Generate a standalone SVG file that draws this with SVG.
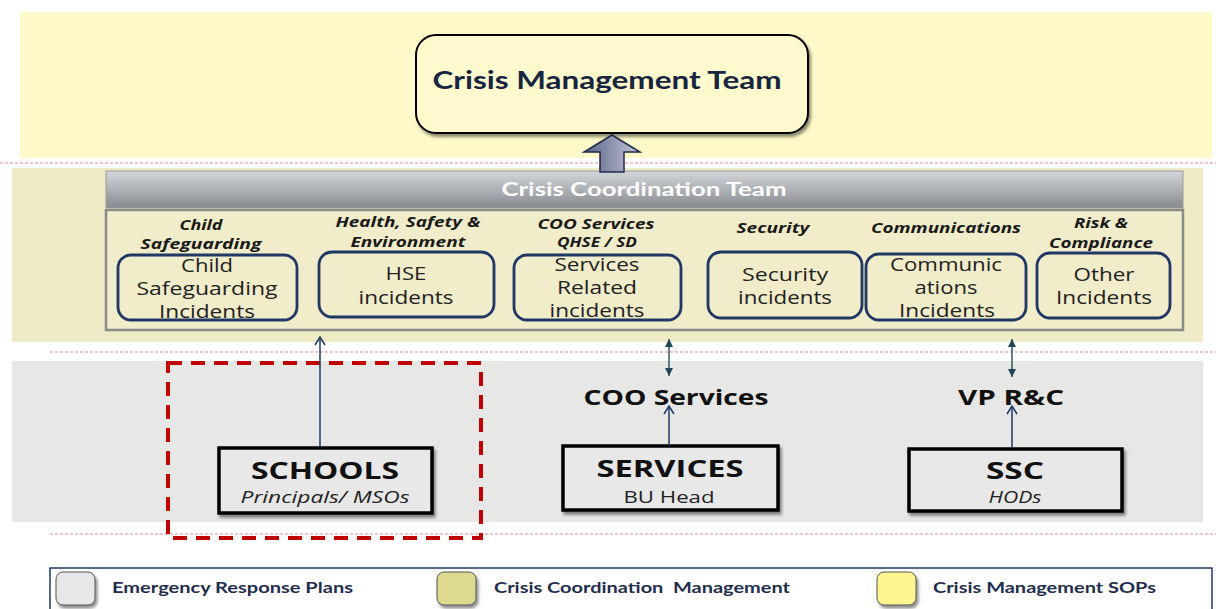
<svg xmlns="http://www.w3.org/2000/svg" width="1216" height="609" viewBox="0 0 1216 609">
<style>
.band{stroke:none}
.dots{stroke:#F2C4C4;stroke-width:2;stroke-dasharray:3 2;fill:none}
.inc{fill:none;stroke:#1F3864;stroke-width:2.8}
.inct{font-family:"Open Sans","DejaVu Sans",sans-serif;font-size:18px;fill:#222;text-anchor:middle}
.sub{font-family:"Open Sans","DejaVu Sans",sans-serif;font-size:14px;font-weight:bold;font-style:italic;fill:#1a1a1a;text-anchor:middle}
.unit{fill:#E8E8E8;stroke:#000;stroke-width:3.5}
.ut{font-family:"Open Sans","DejaVu Sans",sans-serif;font-size:24px;font-weight:bold;fill:#111;text-anchor:middle}
.us{font-family:"Open Sans","DejaVu Sans",sans-serif;font-size:17px;fill:#222;text-anchor:middle}
.head{font-family:"Open Sans","DejaVu Sans",sans-serif;font-size:22px;font-weight:bold;fill:#111;text-anchor:middle}
.conn{stroke:#1F3864;stroke-width:1.5;fill:none}
.conn2{stroke:#2E5466;stroke-width:1.5;fill:none}
.leg{font-family:"Lato","Open Sans",sans-serif;font-size:15px;font-weight:bold;fill:#1F2D4E}
</style>
<defs>
<linearGradient id="hdr" x1="0" y1="0" x2="0" y2="1">
<stop offset="0" stop-color="#D3D6DA"/>
<stop offset="1" stop-color="#878A8F"/>
</linearGradient>
<linearGradient id="blk" x1="0" y1="0" x2="1" y2="0">
<stop offset="0" stop-color="#5B6185"/>
<stop offset="1" stop-color="#C4C8DA"/>
</linearGradient>
<filter id="sh" x="-10%" y="-10%" width="130%" height="140%">
<feDropShadow dx="2" dy="3" stdDeviation="1.5" flood-color="#000" flood-opacity="0.45"/>
</filter>
<marker id="open" viewBox="0 0 10 12" refX="9" refY="6" markerWidth="10" markerHeight="12" markerUnits="userSpaceOnUse" orient="auto-start-reverse">
<path d="M1,1 L9,6 L1,11" fill="none" stroke="#1F3864" stroke-width="1.5"/>
</marker>
<marker id="fill" viewBox="0 0 10 10" refX="9" refY="5" markerWidth="10" markerHeight="10" markerUnits="userSpaceOnUse" orient="auto-start-reverse">
<path d="M1,1 L9,5 L1,9 Z" fill="#1F4656"/>
</marker>
</defs>

<!-- bands -->
<rect class="band" x="20" y="12" width="1192" height="146" fill="#FDF9C9"/>
<line class="dots" x1="0" y1="163" x2="1216" y2="163"/>
<rect class="band" x="12" y="168" width="1191" height="174" fill="#F0EBC7"/>
<line class="dots" x1="50" y1="352" x2="1216" y2="352"/>
<rect class="band" x="12" y="361" width="1191" height="161" fill="#E7E7E6"/>
<line class="dots" x1="50" y1="534" x2="1216" y2="534"/>

<!-- Crisis Management Team -->
<g id="cmt">
<rect x="416" y="35" width="392" height="98" rx="20" fill="#FFFACD" stroke="#000" stroke-width="2" filter="url(#sh)"/>
<text x="607" y="89" font-family="Lato,'Open Sans',sans-serif" font-size="24" font-weight="bold" fill="#16243F" text-anchor="middle" textLength="349" lengthAdjust="spacingAndGlyphs">Crisis Management Team</text>
</g>

<!-- Crisis Coordination Team -->
<g id="cct">
<rect x="106" y="210" width="1077" height="120" fill="#F1ECC9" stroke="#8A8A8A" stroke-width="2.5"/>
<rect x="106" y="171" width="1077" height="37" fill="url(#hdr)" stroke="#9A9A9A" stroke-width="1"/>
<text x="644" y="196" font-family="Lato,'Open Sans',sans-serif" font-size="19" font-weight="bold" fill="#FFFFFF" text-anchor="middle" textLength="285" lengthAdjust="spacingAndGlyphs">Crisis Coordination Team</text>
</g>

<g id="cs">
<text class="sub" x="201" y="230" textLength="43" lengthAdjust="spacingAndGlyphs">Child</text>
<text class="sub" x="201" y="249" textLength="121" lengthAdjust="spacingAndGlyphs">Safeguarding</text>
<rect class="inc" x="118" y="255" width="179" height="65" rx="13"/>
<text class="inct" x="207" y="272" textLength="52" lengthAdjust="spacingAndGlyphs">Child</text>
<text class="inct" x="207" y="295" textLength="141" lengthAdjust="spacingAndGlyphs">Safeguarding</text>
<text class="inct" x="207" y="318" textLength="96" lengthAdjust="spacingAndGlyphs">Incidents</text>
</g>

<g id="hse">
<text class="sub" x="408" y="227" textLength="145" lengthAdjust="spacingAndGlyphs">Health, Safety &amp;</text>
<text class="sub" x="408" y="247" textLength="115" lengthAdjust="spacingAndGlyphs">Environment</text>
<rect class="inc" x="319" y="252" width="175" height="65" rx="13"/>
<text class="inct" x="406" y="280" textLength="41" lengthAdjust="spacingAndGlyphs">HSE</text>
<text class="inct" x="406" y="304" textLength="95" lengthAdjust="spacingAndGlyphs">incidents</text>
</g>

<g id="coo">
<text class="sub" x="596" y="229" textLength="117" lengthAdjust="spacingAndGlyphs">COO Services</text>
<text class="sub" x="597" y="247" textLength="80" lengthAdjust="spacingAndGlyphs">QHSE / SD</text>
<rect class="inc" x="514" y="255" width="167" height="65" rx="13"/>
<text class="inct" x="597" y="271" textLength="85" lengthAdjust="spacingAndGlyphs">Services</text>
<text class="inct" x="597" y="294" textLength="80" lengthAdjust="spacingAndGlyphs">Related</text>
<text class="inct" x="597" y="317" textLength="95" lengthAdjust="spacingAndGlyphs">incidents</text>
</g>

<g id="sec">
<text class="sub" x="773" y="233" textLength="73" lengthAdjust="spacingAndGlyphs">Security</text>
<rect class="inc" x="708" y="252" width="154" height="66" rx="13"/>
<text class="inct" x="785" y="281" textLength="86" lengthAdjust="spacingAndGlyphs">Security</text>
<text class="inct" x="785" y="304" textLength="94" lengthAdjust="spacingAndGlyphs">incidents</text>
</g>

<g id="com">
<text class="sub" x="946" y="233" textLength="150" lengthAdjust="spacingAndGlyphs">Communications</text>
<rect class="inc" x="866" y="254" width="160" height="66" rx="13"/>
<text class="inct" x="946" y="271" textLength="112" lengthAdjust="spacingAndGlyphs">Communic</text>
<text class="inct" x="946" y="294" textLength="63" lengthAdjust="spacingAndGlyphs">ations</text>
<text class="inct" x="947" y="317" textLength="96" lengthAdjust="spacingAndGlyphs">Incidents</text>
</g>

<g id="risk">
<text class="sub" x="1101" y="228" textLength="54" lengthAdjust="spacingAndGlyphs">Risk &amp;</text>
<text class="sub" x="1101" y="248" textLength="104" lengthAdjust="spacingAndGlyphs">Compliance</text>
<rect class="inc" x="1037" y="253" width="133" height="65" rx="13"/>
<text class="inct" x="1104" y="281" textLength="61" lengthAdjust="spacingAndGlyphs">Other</text>
<text class="inct" x="1104" y="304" textLength="96" lengthAdjust="spacingAndGlyphs">Incidents</text>
</g>

<!-- lower units -->
<rect x="168" y="363" width="313" height="175" fill="none" stroke="#C00000" stroke-width="4" stroke-dasharray="14 9"/>

<g id="schools">
<rect class="unit" x="219" y="448" width="213" height="65" filter="url(#sh)"/>
<text class="ut" x="325" y="479" textLength="148" lengthAdjust="spacingAndGlyphs">SCHOOLS</text>
<text class="us" x="325" y="503" font-style="italic" textLength="169" lengthAdjust="spacingAndGlyphs">Principals/ MSOs</text>
</g>

<g id="coo-services">
<text class="head" x="676" y="405" textLength="185" lengthAdjust="spacingAndGlyphs">COO Services</text>
</g>

<g id="services">
<rect class="unit" x="563" y="446" width="215" height="64" filter="url(#sh)"/>
<text class="ut" x="670" y="477" textLength="147" lengthAdjust="spacingAndGlyphs">SERVICES</text>
<text class="us" x="669" y="503" textLength="91" lengthAdjust="spacingAndGlyphs">BU Head</text>
</g>

<g id="vprc">
<text class="head" x="1011" y="405" textLength="106" lengthAdjust="spacingAndGlyphs">VP R&amp;C</text>
</g>

<g id="ssc">
<rect class="unit" x="909" y="449" width="213" height="62" filter="url(#sh)"/>
<text class="ut" x="1015" y="479" textLength="58" lengthAdjust="spacingAndGlyphs">SSC</text>
<text class="us" x="1015" y="503" font-style="italic" textLength="53" lengthAdjust="spacingAndGlyphs">HODs</text>
</g>

<!-- connectors -->
<g id="connectors">
<path d="M612,135 L640,152 L624,152 L624,172 L600,172 L600,152 L584,152 Z" fill="url(#blk)" stroke="#1F2A4A" stroke-width="1.5" stroke-linejoin="miter"/>
<line class="conn" x1="320" y1="446" x2="320" y2="337" marker-end="url(#open)"/>
<line class="conn2" x1="669" y1="339" x2="669" y2="376" marker-start="url(#fill)" marker-end="url(#fill)"/>
<line class="conn" x1="669" y1="446" x2="669" y2="406" marker-end="url(#open)"/>
<line class="conn2" x1="1012" y1="339" x2="1012" y2="377" marker-start="url(#fill)" marker-end="url(#fill)"/>
<line class="conn" x1="1012" y1="447" x2="1012" y2="406" marker-end="url(#open)"/>
</g>

<!-- legend -->
<g id="legend">
<rect x="50" y="568" width="1162" height="45" fill="#FFFFFF" stroke="#1F3864" stroke-width="1.5"/>
<rect x="56" y="572" width="39" height="33" rx="7" fill="#E6E7E6" stroke="#555" stroke-width="1" filter="url(#sh)"/>
<text class="leg" x="112" y="593" textLength="241" lengthAdjust="spacingAndGlyphs">Emergency Response Plans</text>
<rect x="437" y="572" width="39" height="33" rx="7" fill="#DDD98F" stroke="#555" stroke-width="1" filter="url(#sh)"/>
<text class="leg" x="494" y="593" textLength="296" lengthAdjust="spacingAndGlyphs" xml:space="preserve">Crisis Coordination  Management</text>
<rect x="877" y="572" width="39" height="33" rx="7" fill="#FFF68F" stroke="#555" stroke-width="1" filter="url(#sh)"/>
<text class="leg" x="933" y="593" textLength="223" lengthAdjust="spacingAndGlyphs">Crisis Management SOPs</text>
</g>
</svg>
